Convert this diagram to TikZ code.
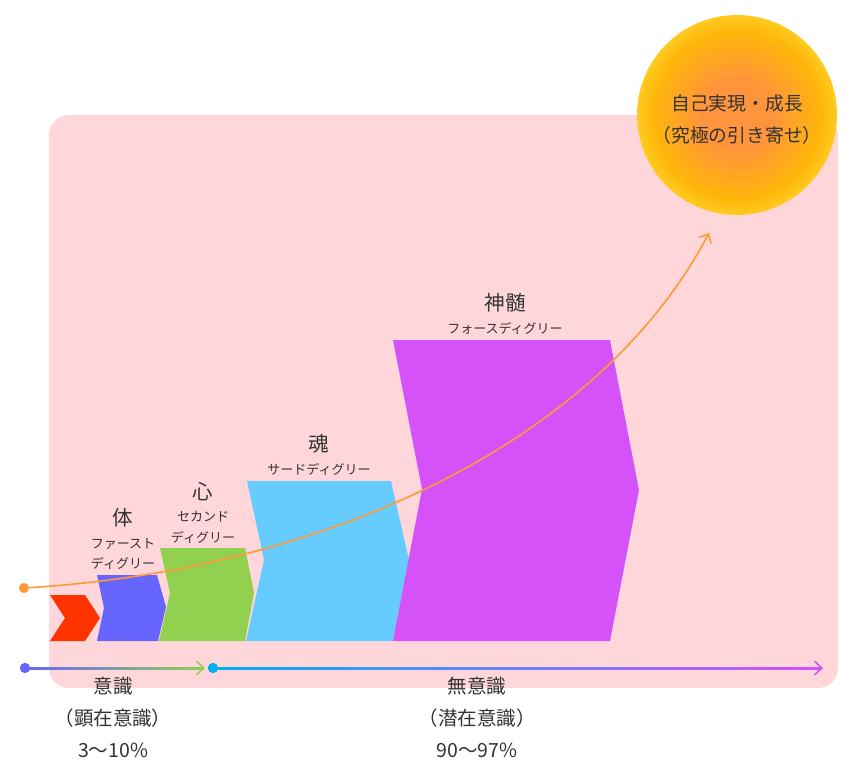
\documentclass[tikz,border=0pt]{standalone}
\usepackage{fontspec}
\setmainfont{Noto Sans CJK JP}
\usetikzlibrary{arrows.meta,calc}
\definecolor{bgpink}{RGB}{255,215,218}
\definecolor{redC}{RGB}{255,51,0}
\definecolor{blueC}{RGB}{102,102,255}
\definecolor{greenC}{RGB}{146,208,80}
\definecolor{cyanC}{RGB}{102,204,255}
\definecolor{purpleC}{RGB}{212,82,247}
\definecolor{orangeC}{RGB}{255,153,51}
\definecolor{cyanD}{RGB}{0,176,240}
\definecolor{textC}{RGB}{51,51,51}
\definecolor{sunA}{RGB}{255,148,60}
\definecolor{sunB}{RGB}{255,182,10}
\definecolor{sunC}{RGB}{255,228,60}
\definecolor{sunD}{RGB}{255,244,130}
\pgfdeclareradialshading{sunshade}{\pgfpoint{0bp}{0bp}}{color(0bp)=(sunA); color(8.5bp)=(sunA); color(21bp)=(sunB); color(30bp)=(sunC); color(35.4bp)=(sunD); color(50bp)=(sunD)}
\begin{document}
\begin{tikzpicture}[x=1pt,y=-1pt,
  big/.style={text=textC, inner sep=0, font=\fontsize{20.5}{20.5}\selectfont},
  small/.style={text=textC, inner sep=0, font=\fontsize{13}{13}\selectfont},
  bottomlbl/.style={text=textC, inner sep=0, font=\fontsize{19.5}{19.5}\selectfont},
  suntext/.style={text=textC, inner sep=0, font=\fontsize{18.8}{18.8}\selectfont},
  dot/.style={circle, inner sep=0, minimum size=10pt},
  barb/.style={-{Straight Barb[length=7pt,width=13pt,line cap=round]}, line cap=round}
]
\useasboundingbox (0,0) rectangle (860,780);
% background panel
\fill[bgpink, rounded corners=20pt] (49,115) rectangle (838,688);
% sun
\node[circle, minimum size=200pt, inner sep=0, shading=sunshade] (sun) at (737,115) {};
\node[suntext] (sun1) at (737,103) {自己実現・成長};
\node[suntext] (sun2) at (737,135) {（究極の引き寄せ）};
% step shapes
\fill[redC] (50,595) -- (85,595) -- (100,618) -- (85,641) -- (50,641) -- (65,618) -- cycle;
\fill[blueC] (97,575) -- (157,575) -- (166,607) -- (158,641) -- (97,641) -- (104,608) -- cycle;
\fill[greenC] (160,548) -- (245,548) -- (254,593) -- (245,641) -- (159,641) -- (170,593) -- cycle;
\fill[cyanC] (247,481) -- (391,481) -- (409,560) -- (393,641) -- (246,641) -- (264,560) -- cycle;
\fill[purpleC] (393,340) -- (610,340) -- (639,490) -- (610,641) -- (393,641) -- (422,489) -- cycle;
% labels
\node[big] (l1) at (123,518) {体};
\node[small] (l1a) at (123,544) {ファースト};
\node[small] (l1b) at (123,563) {ディグリー};
\node[big] (l2) at (203,492) {心};
\node[small] (l2a) at (203,517) {セカンド};
\node[small] (l2b) at (203,537) {ディグリー};
\node[big] (l3) at (319,444) {魂};
\node[small] (l3a) at (319,469) {サードディグリー};
\node[big] (l4) at (505,303) {神髄};
\node[small] (l4a) at (505,328) {フォースディグリー};
% growth curve
\node[dot, fill=orangeC] (odot) at (24,588) {};
\coordinate (oend) at (709,233);
\draw[orangeC, line width=1.6pt, barb] (odot.center) .. controls (330,570) and (600,440) .. (oend);
% bottom axis 1
\node[dot, fill=blueC] (bd) at (25,668) {};
\coordinate (bt) at (205,668);
\shade[left color=blueC, right color=greenC] ($(bd.center)+(0,-1)$) rectangle ($(bt)+(-1,1)$);
\draw[greenC, line width=1.6pt, barb] ($(bt)+(-3,0)$) -- (bt);
\node[dot, fill=blueC] at (bd.center) {};
% bottom axis 2
\node[dot, fill=cyanD] (cd) at (213,668) {};
\coordinate (ct) at (823,668);
\shade[left color=cyanD, right color=purpleC] ($(cd.center)+(0,-1)$) rectangle ($(ct)+(-1,1)$);
\draw[purpleC, line width=1.6pt, barb] ($(ct)+(-3,0)$) -- (ct);
\node[dot, fill=cyanD] at (cd.center) {};
% bottom labels
\node[bottomlbl] (b1) at (113,686) {意識};
\node[bottomlbl] (b2) at (113,718) {（顕在意識）};
\node[bottomlbl] (b3) at (113,750) {3～10\%};
\node[bottomlbl] (c1) at (477,686) {無意識};
\node[bottomlbl] (c2) at (477,718) {（潜在意識）};
\node[bottomlbl] (c3) at (477,750) {90～97\%};
\end{tikzpicture}
\end{document}
